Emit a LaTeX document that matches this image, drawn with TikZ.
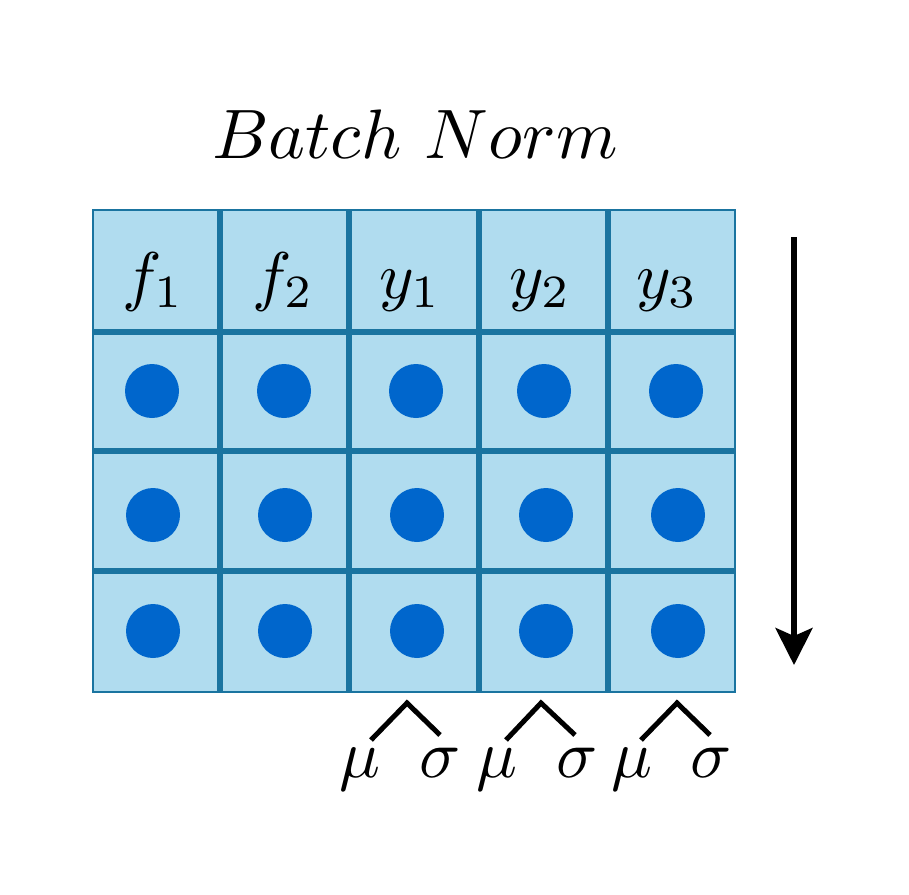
\documentclass[tikz,border=0pt]{standalone}
\usetikzlibrary{arrows.meta}
\definecolor{cellfill}{HTML}{B0DCEF}
\definecolor{gridline}{HTML}{1A74A0}
\definecolor{dotblue}{HTML}{0066CC}
\begin{document}
\begin{tikzpicture}[x=1pt,y=-1pt,
  hdr/.style={inner sep=0pt, anchor=base, scale=6.6},
  stat/.style={inner sep=0pt, anchor=base, scale=6.8},
  ttl/.style={inner sep=0pt, anchor=base, scale=7.0},
  dotnode/.style={circle, fill=dotblue, minimum size=54pt, inner sep=0pt},
  inner line/.style={gridline, line width=5.5pt},
  outer line/.style={gridline, line width=2.5pt},
  hat/.style={line width=5pt, line join=miter},
  flow/.style={line width=5.5pt, -{Stealth[length=37pt,width=37pt,inset=8pt]}}]
\useasboundingbox (0,0) rectangle (909,894);
% title
\node[ttl] (title) at (415,158) {$Batch\ Norm$};
% grid
\fill[cellfill] (93,210) rectangle (735,692);
\foreach \x in {220,349,479,608} \draw[inner line] (\x,210) -- (\x,692);
\foreach \y in {332,451,571} \draw[inner line] (93,\y) -- (735,\y);
\draw[outer line] (93,210) rectangle (735,692);
% header labels
\node[hdr] (f1) at (153,298) {$f_1$};
\node[hdr] (f2) at (283,298) {$f_2$};
\node[hdr] (y1) at (410,298) {$y_1$};
\node[hdr] (y2) at (540,298) {$y_2$};
\node[hdr] (y3) at (667,298) {$y_3$};
% dots
\foreach \r/\yy/\xa/\xb/\xc/\xd/\xe in {1/391/152/284/416/544/676, 2/515/153/285/417/546/678, 3/631/153/285/417/546/678}{
  \node[dotnode] (d\r a) at (\xa,\yy) {};
  \node[dotnode] (d\r b) at (\xb,\yy) {};
  \node[dotnode] (d\r c) at (\xc,\yy) {};
  \node[dotnode] (d\r d) at (\xd,\yy) {};
  \node[dotnode] (d\r e) at (\xe,\yy) {};
}
% arrow
\coordinate (astart) at (794,237);
\coordinate (aend) at (794,665);
\draw[flow] (astart) -- (aend);
% statistics
\node[stat] (mu1) at (360,777) {$\mu$};
\node[stat] (sg1) at (440,777) {$\sigma$};
\node[stat] (mu2) at (497,777) {$\mu$};
\node[stat] (sg2) at (577,777) {$\sigma$};
\node[stat] (mu3) at (632,777) {$\mu$};
\node[stat] (sg3) at (711,777) {$\sigma$};
\coordinate (h1l) at (371,740); \coordinate (h1t) at (407,703); \coordinate (h1r) at (440,735);
\coordinate (h2l) at (506,740); \coordinate (h2t) at (541,703); \coordinate (h2r) at (575,735);
\coordinate (h3l) at (641,740); \coordinate (h3t) at (677,703); \coordinate (h3r) at (710,735);
\draw[hat] (h1l) -- (h1t) -- (h1r);
\draw[hat] (h2l) -- (h2t) -- (h2r);
\draw[hat] (h3l) -- (h3t) -- (h3r);
\end{tikzpicture}
\end{document}
